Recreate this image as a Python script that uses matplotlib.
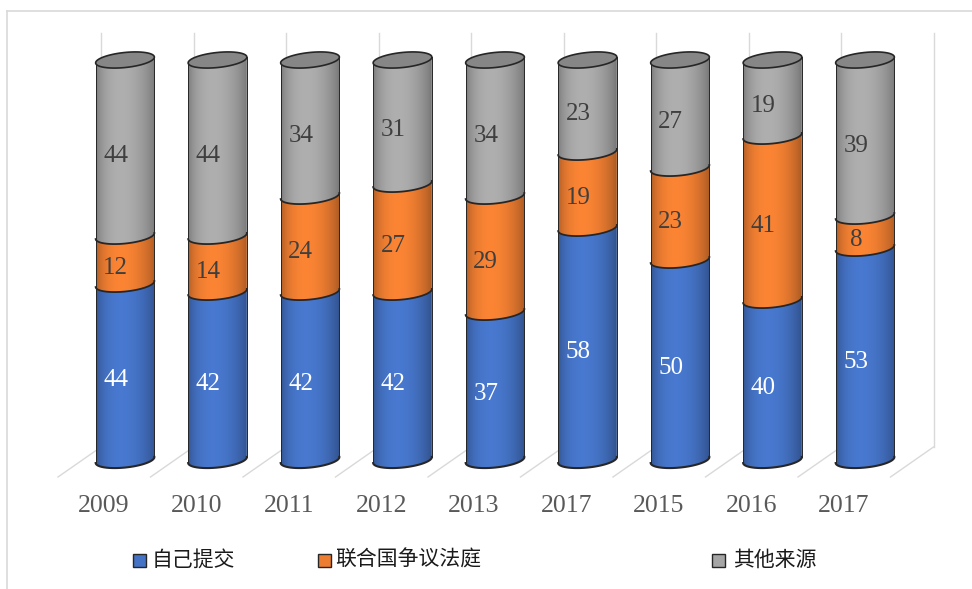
import numpy as np
import matplotlib.pyplot as plt
from matplotlib.path import Path
from matplotlib.patches import PathPatch, Polygon, Rectangle
from matplotlib.lines import Line2D
from matplotlib.colors import to_rgb

years = ['2009', '2010', '2011', '2012', '2013', '2017', '2015', '2016', '2017']
self_submitted = [44, 42, 42, 42, 37, 58, 50, 40, 53]
un_tribunal = [12, 14, 24, 27, 29, 19, 23, 41, 8]
other_sources = [44, 44, 34, 31, 34, 23, 27, 19, 39]

series = [self_submitted, un_tribunal, other_sources]
series_names = ['自己提交', '联合国争议法庭', '其他来源']
series_colors = ['#4472C4', '#ED7D31', '#A5A5A5']
label_colors = ['white', '#3f3f3f', '#3f3f3f']

W, H = 972, 589
fig = plt.figure(figsize=(W / 100, H / 100), dpi=100)
ax = fig.add_axes([0, 0, 1, 1])
ax.set_axis_off()

# 92.5 px per category, 4 px per percent
X0, DX = 125, 92.5
Y0, DY = 460, 4.0
RPX, EPX = 29.5, 7.5          # ellipse half axes in px
TILT = np.radians(6)          # slight perspective tilt of the rims
EDGE = '#262626'


def px_x(p):
    return (p - X0) / DX


def px_y(p):
    return (Y0 - p) / DY


def rim(c, y, th):
    dx = RPX * np.cos(th) * np.cos(TILT) - EPX * np.sin(th) * np.sin(TILT)
    dy = RPX * np.cos(th) * np.sin(TILT) + EPX * np.sin(th) * np.cos(TILT)
    return np.column_stack([c + dx / DX, y + dy / DY])


def front_arc(c, y, reverse=False):
    pts = rim(c, y, np.linspace(np.pi, 2 * np.pi, 80))
    return pts[::-1] if reverse else pts


def shade(color, n=96):
    u = np.linspace(0, 1, n)
    s = np.sin(np.pi * u ** 0.8) ** 0.7
    f = 0.70 + 0.36 * s
    base = np.array(to_rgb(color))
    img = np.clip(base[None, :] * f[:, None], 0, 1)
    return img[None, :, :]


# back wall and floor lines
for k in range(10):
    xb = px_x(101) + k
    ax.plot([xb, xb], [px_y(447), px_y(33)], color='#D9D9D9', lw=1.0, zorder=0)
    ax.plot([xb, xb - 43 / DX], [px_y(447), px_y(477)], color='#D9D9D9', lw=1.0, zorder=0)

R = RPX / DX
half_w = RPX * np.cos(TILT) / DX
drop = RPX * np.sin(TILT) / DY

# stacked cylinders
for i, year in enumerate(years):
    c = i
    bottom = 0
    for s, vals in enumerate(series):
        v = vals[i]
        top = bottom + v
        verts = np.vstack([front_arc(c, bottom), front_arc(c, top, reverse=True)])
        verts = np.vstack([verts, verts[:1]])
        clip = PathPatch(Path(verts, closed=True), facecolor='none', edgecolor='none',
                         transform=ax.transData)
        ax.add_patch(clip)
        im = ax.imshow(shade(series_colors[s]), extent=[c - R, c + R, bottom - 4, top + 4],
                       aspect='auto', interpolation='bilinear', zorder=2)
        im.set_clip_path(clip)

        arc = front_arc(c, bottom)
        ax.plot(arc[:, 0], arc[:, 1], color=EDGE, lw=1.3 if bottom > 0 else 1.5, zorder=3)

        ax.text(c - 0.1, (bottom + top) / 2 - 2.0, str(v), ha='center', va='center',
                fontsize=18, family='Liberation Serif', color=label_colors[s], zorder=5)
        bottom = top

    ax.plot([c - half_w, c - half_w], [-drop, bottom - drop], color=EDGE, lw=0.7, zorder=3)
    ax.plot([c + half_w, c + half_w], [drop, bottom + drop], color=EDGE, lw=0.7, zorder=3)
    cap = rim(c, bottom, np.linspace(0, 2 * np.pi, 160))
    ax.add_patch(Polygon(cap, closed=True, facecolor='#868686', edgecolor=EDGE,
                         lw=1.2, zorder=4))

    ax.text(c - 21 / DX, px_y(506), year, ha='center', va='center', fontsize=18.5,
            family='Liberation Serif', color='#595959')

ax.set_xlim(px_x(0), px_x(W))
ax.set_ylim(px_y(H), px_y(0))

# legend
legend_x = [(133, 152), (318, 335), (712, 733)]
for (sx, tx), name, color in zip(legend_x, series_names, series_colors):
    fig.add_artist(Rectangle((sx / W, 1 - 567 / H), 13 / W, 13 / H, transform=fig.transFigure,
                             facecolor=color, edgecolor=EDGE, lw=1.0))
    fig.text(tx / W, 1 - 560 / H, name, ha='left', va='center', fontsize=15,
             family=['Noto Sans CJK SC', 'DejaVu Sans'], color='#1a1a1a')

# chart frame
fig.add_artist(Line2D([7 / W, 1], [1 - 11 / H, 1 - 11 / H], transform=fig.transFigure,
                      color='#D9D9D9', lw=1.2))
fig.add_artist(Line2D([7 / W, 7 / W], [0, 1 - 11 / H], transform=fig.transFigure,
                      color='#D9D9D9', lw=1.2))

fig.savefig('out.png', dpi=100)
